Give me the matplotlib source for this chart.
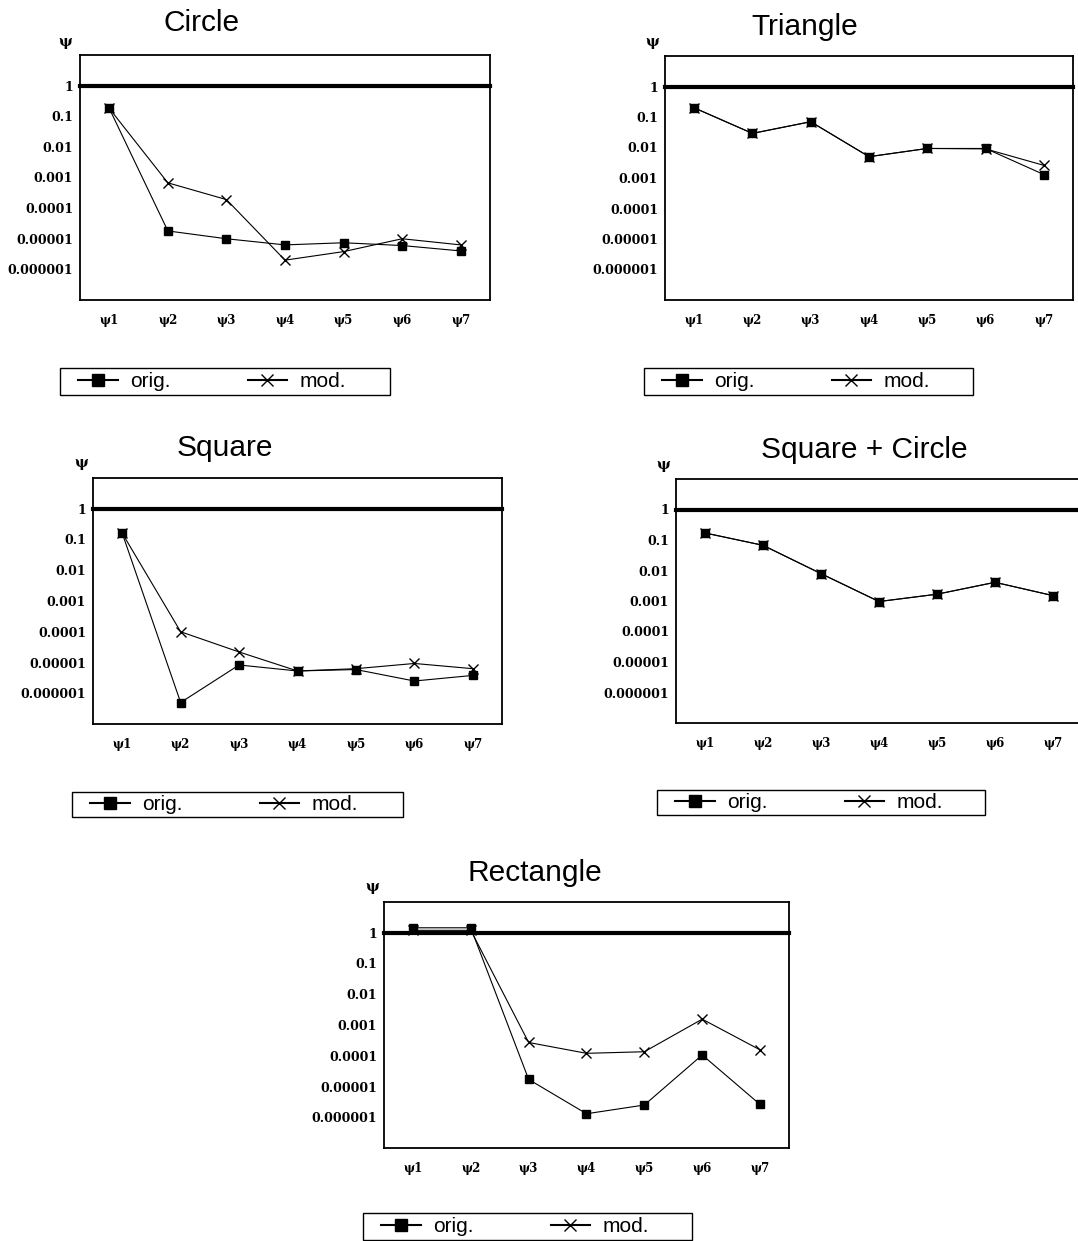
import matplotlib
matplotlib.use("Agg")
import matplotlib.pyplot as plt
from matplotlib.patches import Rectangle

# x categories
psi_labels = ['ψ1', 'ψ2', 'ψ3', 'ψ4', 'ψ5', 'ψ6', 'ψ7']
ytick_vals = [1, 0.1, 0.01, 0.001, 0.0001, 0.00001, 0.000001]
ytick_text = ['1', '0.1', '0.01', '0.001', '0.0001', '0.00001', '0.000001']

# values
circle_orig = [0.18, 1.8e-5, 1.0e-5, 6.3e-6, 7.4e-6, 6.0e-6, 4.0e-6]
circle_mod = [0.18, 6.7e-4, 1.9e-4, 2.0e-6, 3.8e-6, 1.0e-5, 6.3e-6]

triangle_orig = [0.2, 0.029, 0.07, 0.005, 0.0093, 0.0093, 0.0013]
triangle_mod = [0.2, 0.029, 0.07, 0.005, 0.0093, 0.009, 0.0026]

square_orig = [0.16, 5.0e-7, 8.3e-6, 5.3e-6, 5.9e-6, 2.5e-6, 3.8e-6]
square_mod = [0.16, 1.0e-4, 2.2e-5, 5.3e-6, 6.3e-6, 9.3e-6, 6.3e-6]

sqcircle_orig = [0.17, 0.067, 0.0079, 0.00096, 0.00167, 0.0041, 0.0015]
sqcircle_mod = [0.17, 0.067, 0.0079, 0.00096, 0.00167, 0.0041, 0.0015]

rect_orig = [1.45, 1.45, 1.7e-5, 1.3e-6, 2.5e-6, 1.06e-4, 2.6e-6]
rect_mod = [1.2, 1.2, 2.7e-4, 1.2e-4, 1.35e-4, 1.55e-3, 1.55e-4]

W, H = 1078, 1241
fig = plt.figure(figsize=(W / 100, H / 100), dpi=100)

tick_font = dict(family='DejaVu Serif', weight='bold')


def px_axes(x0, y0, x1, y1):
    # pixel box (top-left origin) -> figure fraction
    return fig.add_axes([x0 / W, 1 - y1 / H, (x1 - x0) / W, (y1 - y0) / H])


def panel(box, title, title_xy, psi_xy, legbox, orig, mod):
    ax = px_axes(*box)
    x = list(range(1, 8))
    ax.plot(x, mod, color='black', lw=0.8, marker='x', ms=7, mew=1.0,
            label='mod.', zorder=3)
    ax.plot(x, orig, color='black', lw=0.8, marker='s', ms=6,
            label='orig.', zorder=4)
    ax.axhline(1, color='black', lw=3, clip_on=False, zorder=2)
    ax.set_yscale('log')
    ax.set_ylim(1e-7, 10)
    ax.set_xlim(0.5, 7.5)
    ax.set_xticks(x)
    ax.set_xticklabels(psi_labels, fontsize=8.5, **tick_font)
    ax.set_yticks(ytick_vals)
    ax.set_yticklabels(ytick_text, fontsize=9, **tick_font)
    ax.minorticks_off()
    ax.tick_params(axis='both', length=0)
    ax.tick_params(axis='y', pad=5)
    ax.tick_params(axis='x', pad=10)
    for s in ax.spines.values():
        s.set_linewidth(1.3)

    fig.text(title_xy[0] / W, 1 - title_xy[1] / H, title, ha='center',
             va='center', fontsize=21.5, family='Liberation Sans')
    fig.text(psi_xy[0] / W, 1 - psi_xy[1] / H, 'ψ', ha='center', va='center',
             fontsize=10.5, **tick_font)

    # legend: frame drawn separately so the box width matches
    lx0, ly0, lx1, ly1 = legbox
    fig.add_artist(Rectangle((lx0 / W, 1 - ly1 / H), (lx1 - lx0) / W,
                             (ly1 - ly0) / H, transform=fig.transFigure,
                             fill=False, lw=1.0, edgecolor='black'))
    handles, labs = ax.get_legend_handles_labels()
    leg = fig.legend(handles[::-1], labs[::-1], ncol=2,
                     loc='center left',
                     bbox_to_anchor=((lx0 + 18) / W, 1 - (ly0 + ly1) / 2 / H),
                     frameon=False, borderaxespad=0, borderpad=0,
                     handlelength=1.9, handletextpad=0.6, columnspacing=3.7,
                     prop=dict(family='Liberation Sans', size=15))
    for h in leg.legend_handles:
        h.set_linewidth(1.5)
        h.set_markersize(8)
    return ax


panel((80, 55, 490, 300), 'Circle', (202, 23), (65, 42), (60, 368, 390, 395),
      circle_orig, circle_mod)
panel((665, 56, 1073, 300), 'Triangle', (805, 27), (652, 42),
      (644, 368, 973, 395), triangle_orig, triangle_mod)
panel((93, 478, 502, 724), 'Square', (225, 448), (81, 463),
      (72, 792, 403, 817), square_orig, square_mod)
panel((676, 479, 1082, 723), 'Square + Circle', (864, 450), (663, 465),
      (657, 790, 985, 815), sqcircle_orig, sqcircle_mod)
panel((384, 902, 789, 1148), 'Rectangle', (535, 873), (372, 887),
      (363, 1213, 692, 1240), rect_orig, rect_mod)

fig.savefig('out.png', dpi=100)
